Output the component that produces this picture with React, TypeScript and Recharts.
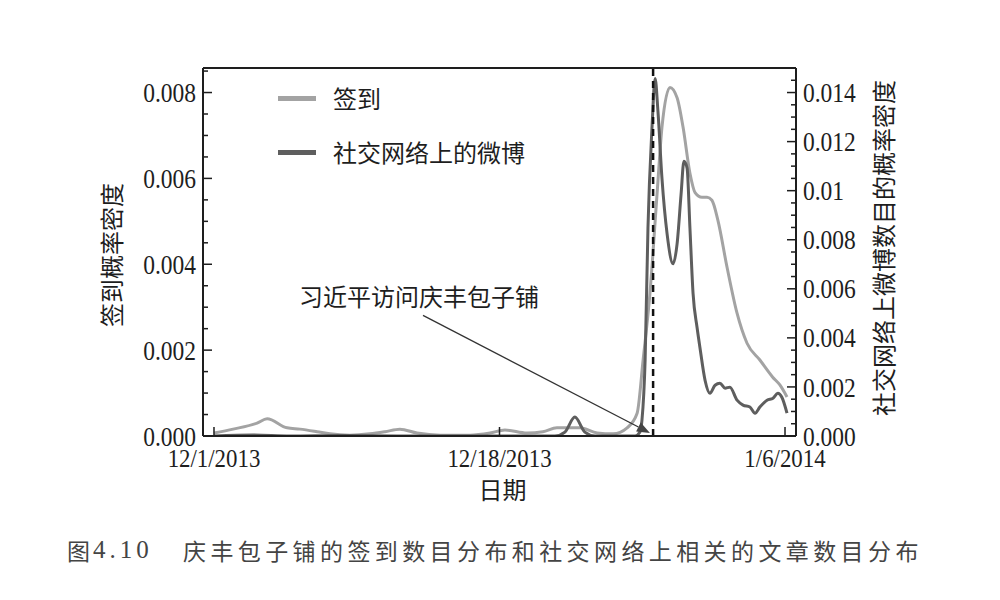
import React from 'react';
import { LineChart, Line, XAxis, YAxis, ReferenceLine, Legend } from 'recharts';

// ---- data ----
const checkinName = '签到';
const weiboName = '社交网络上的微博';
const legendOrder = [checkinName, weiboName];

const checkinX = [0, 0.067, 0.151, 0.186, 0.256, 0.301, 0.361, 0.406, 0.476, 0.546, 0.599, 0.651, 0.711, 0.792, 0.897, 0.967, 1.019, 1.096, 1.152, 1.201, 1.282, 1.342, 1.398, 1.447, 1.482, 1.503, 1.527, 1.552, 1.569, 1.597, 1.622, 1.643, 1.667, 1.685, 1.709, 1.727, 1.744, 1.765, 1.797, 1.832, 1.867, 1.912, 1.957, 1.982, 2.007];
const checkinY = [0.00007, 0.00016, 0.0003, 0.0004, 0.00019, 0.00016, 0.0001, 0.00005, 0.00002, 0.00005, 0.0001, 0.00016, 0.00007, 0.00002, 0.00002, 0.00007, 0.00014, 0.00007, 0.0001, 0.00019, 0.00019, 0.00007, 0.00005, 0.00019, 0.00053, 0.00177, 0.00333, 0.00565, 0.00719, 0.00812, 0.00788, 0.00719, 0.00612, 0.00567, 0.00556, 0.00556, 0.00549, 0.00502, 0.00393, 0.00286, 0.00216, 0.00177, 0.00137, 0.00119, 0.00091];

const weiboX = [0, 0.137, 0.266, 0.441, 0.651, 1.194, 1.229, 1.264, 1.299, 1.335, 1.475, 1.492, 1.499, 1.51, 1.52, 1.534, 1.545, 1.555, 1.569, 1.587, 1.608, 1.622, 1.636, 1.646, 1.657, 1.667, 1.678, 1.692, 1.702, 1.72, 1.737, 1.755, 1.772, 1.79, 1.807, 1.832, 1.853, 1.877, 1.895, 1.912, 1.937, 1.958, 1.975, 1.989, 2.007];
const weiboY = [0, 0.00004, 0, 0.00002, 0, 0, 0.00016, 0.00077, 0.00016, 0, 0, 0.00016, 0.00065, 0.00308, 0.00848, 0.01254, 0.01457, 0.01323, 0.01051, 0.00824, 0.00702, 0.00783, 0.00986, 0.0112, 0.01092, 0.00848, 0.0058, 0.00442, 0.00361, 0.00227, 0.00174, 0.00207, 0.00215, 0.00195, 0.00199, 0.00146, 0.00126, 0.00118, 0.00093, 0.00118, 0.00146, 0.00154, 0.00174, 0.00158, 0.00093];

const xTicks = [0, 1, 2];
const xTickLabels = ['12/1/2013', '12/18/2013', '1/6/2014'];
const xDomain = [-0.0385, 2.0385];

const leftMajor = [0, 0.002, 0.004, 0.006, 0.008];
const leftLabels = ['0.000', '0.002', '0.004', '0.006', '0.008'];
const leftMax = 0.0085714;
const rightMajor = [0, 0.002, 0.004, 0.006, 0.008, 0.01, 0.012, 0.014];
const rightLabels = ['0.000', '0.002', '0.004', '0.006', '0.008', '0.01', '0.012', '0.014'];
const rightMax = 0.015;
const minorStep = 0.0005;

const eventX = 1.538;
const annotationText = '习近平访问庆丰包子铺';
const arrowStart = { x: 0.732, y: 0.00281 };
const arrowEnd = { x: 1.527, y: 0.00007 };

const leftTitle = '签到概率密度';
const rightTitle = '社交网络上微博数目的概率密度';
const xTitle = '日期';
const captionFig = '图';
const captionNum = '4.10';
const captionText = '庆丰包子铺的签到数目分布和社交网络上相关的文章数目分布';

// ---- styles ----
const lightGray = '#a3a3a3';
const darkGray = '#5e5e5e';
const ink = '#1e1e1e';
const serif = '"Liberation Serif", "Times New Roman", serif';
const cjk = '"Noto Sans CJK SC", sans-serif';

const checkinData = checkinX.map((x, i) => ({ x, v: checkinY[i] }));
const weiboData = weiboX.map((x, i) => ({ x, v: weiboY[i] }));

const makeTicks = (max: number) => {
  const out: number[] = [];
  for (let i = 0; i * minorStep <= max + 1e-9; i++) out.push(Number((i * minorStep).toFixed(6)));
  return out;
};
const leftTicks = makeTicks(leftMax);
const rightTicks = makeTicks(rightMax);

const findIdx = (arr: number[], v: number) => arr.findIndex((m) => Math.abs(m - v) < 1e-9);

const LeftTick = (props: any) => {
  const { x, y, payload } = props;
  const idx = findIdx(leftMajor, payload.value);
  const major = idx >= 0;
  return (
    <g>
      <line x1={x} x2={x + (major ? 9 : 5)} y1={y} y2={y} stroke={ink} strokeWidth={1.5} />
      {major && (
        <text transform={`translate(${x - 7},${y}) scale(0.87,1)`} textAnchor="end" dominantBaseline="central" fontSize={27} fontFamily={serif} fill={ink}>
          {leftLabels[idx]}
        </text>
      )}
    </g>
  );
};

const RightTick = (props: any) => {
  const { x, y, payload } = props;
  const idx = findIdx(rightMajor, payload.value);
  const major = idx >= 0;
  return (
    <g>
      <line x1={x} x2={x - (major ? 9 : 5)} y1={y} y2={y} stroke={ink} strokeWidth={1.5} />
      {major && (
        <text transform={`translate(${x + 7},${y}) scale(0.87,1)`} textAnchor="start" dominantBaseline="central" fontSize={27} fontFamily={serif} fill={ink}>
          {rightLabels[idx]}
        </text>
      )}
    </g>
  );
};

const BottomTick = (props: any) => {
  const { x, y, payload } = props;
  const idx = findIdx(xTicks, payload.value);
  return (
    <g>
      <line x1={x} x2={x} y1={y} y2={y - 9} stroke={ink} strokeWidth={1.5} />
      <text transform={`translate(${x},${y + 22}) scale(0.88,1)`} textAnchor="middle" dominantBaseline="central" fontSize={26} fontFamily={serif} fill={ink}>
        {xTickLabels[idx]}
      </text>
    </g>
  );
};

const ArrowShape = (props: any) => {
  const { x1, y1, x2, y2 } = props;
  const ang = Math.atan2(y2 - y1, x2 - x1);
  const L = 13;
  const W = 5;
  const bx = x2 - L * Math.cos(ang);
  const by = y2 - L * Math.sin(ang);
  const px = -Math.sin(ang) * W;
  const py = Math.cos(ang) * W;
  return (
    <g>
      <line x1={x1} y1={y1} x2={bx} y2={by} stroke="#333" strokeWidth={1.3} />
      <polygon points={`${x2},${y2} ${bx + px},${by + py} ${bx - px},${by - py}`} fill="#444" />
      <text x={x1 - 4} y={y1 - 20} textAnchor="middle" dominantBaseline="central" fontSize={24} fontFamily={cjk} fill={ink}>
        {annotationText}
      </text>
    </g>
  );
};

const renderLegend = (props: any) => {
  const payload = [...(props.payload || [])].sort(
    (a: any, b: any) => legendOrder.indexOf(a.value) - legendOrder.indexOf(b.value)
  );
  return (
    <div>
      {payload.map((p: any, i: number) => (
        <div key={i} style={{ display: 'flex', alignItems: 'center', height: 54 }}>
          <div style={{ width: 38, height: 5, background: p.color, marginRight: 17 }} />
          <span style={{ fontFamily: cjk, fontSize: 24, color: ink, lineHeight: '24px' }}>{p.value}</span>
        </div>
      ))}
    </div>
  );
};

const LeftTitle = (props: any) => {
  const vb = props.viewBox;
  const cx = vb.x - 13;
  const cy = vb.y + vb.height / 2 + 3;
  return (
    <text x={cx} y={cy} transform={`rotate(-90 ${cx} ${cy})`} textAnchor="middle" dominantBaseline="central" fontSize={24} fontFamily={cjk} fill={ink}>
      {leftTitle}
    </text>
  );
};

const RightTitle = (props: any) => {
  const vb = props.viewBox;
  const cx = vb.x + 86;
  const cy = vb.y + vb.height / 2 - 4;
  return (
    <text x={cx} y={cy} transform={`rotate(-90 ${cx} ${cy})`} textAnchor="middle" dominantBaseline="central" fontSize={24} fontFamily={cjk} fill={ink}>
      {rightTitle}
    </text>
  );
};

const XTitle = (props: any) => {
  const vb = props.viewBox;
  return (
    <text x={vb.x + vb.width / 2 + 3} y={vb.y + 52} textAnchor="middle" dominantBaseline="central" fontSize={24} fontFamily={cjk} fill={ink}>
      {xTitle}
    </text>
  );
};

export default function App() {
  return (
    <div style={{ position: 'absolute', left: 0, top: 0, width: 1000, height: 600, background: '#fff' }}>
      <LineChart width={1000} height={600} margin={{ top: 68, right: 144, left: 123, bottom: 104 }}>
        <XAxis
          dataKey="x"
          type="number"
          domain={xDomain}
          ticks={xTicks}
          tick={<BottomTick />}
          tickSize={0}
          tickMargin={0}
          tickLine={false}
          axisLine={{ stroke: ink, strokeWidth: 2 }}
          height={60}
          allowDataOverflow
          label={<XTitle />}
        />
        <YAxis
          yAxisId="left"
          type="number"
          domain={[0, leftMax]}
          ticks={leftTicks}
          interval={0}
          tick={<LeftTick />}
          tickSize={0}
          tickMargin={0}
          tickLine={false}
          axisLine={{ stroke: ink, strokeWidth: 2 }}
          width={80}
          allowDataOverflow
          label={<LeftTitle />}
        />
        <YAxis
          yAxisId="right"
          orientation="right"
          type="number"
          domain={[0, rightMax]}
          ticks={rightTicks}
          interval={0}
          tick={<RightTick />}
          tickSize={0}
          tickMargin={0}
          tickLine={false}
          axisLine={{ stroke: ink, strokeWidth: 2 }}
          width={60}
          allowDataOverflow
          label={<RightTitle />}
        />
        <ReferenceLine yAxisId="left" y={leftMax} stroke={ink} strokeWidth={2} />
        <Line
          yAxisId="left"
          data={checkinData}
          dataKey="v"
          name={checkinName}
          type="monotone"
          stroke={lightGray}
          strokeWidth={3}
          dot={false}
          activeDot={false}
          isAnimationActive={false}
        />
        <Line
          yAxisId="right"
          data={weiboData}
          dataKey="v"
          name={weiboName}
          type="monotone"
          stroke={darkGray}
          strokeWidth={3}
          dot={false}
          activeDot={false}
          isAnimationActive={false}
        />
        <ReferenceLine yAxisId="left" x={eventX} stroke="#111" strokeWidth={2.5} strokeDasharray="7 5" />
        <ReferenceLine yAxisId="left" segment={[arrowStart, arrowEnd]} shape={<ArrowShape />} />
        <Legend
          layout="horizontal"
          align="center"
          verticalAlign="middle"
          content={renderLegend}
          wrapperStyle={{ left: 278, top: 71, width: 320, height: 110 }}
        />
      </LineChart>
      <div style={{ position: 'absolute', top: 534, left: 67, height: 32, display: 'flex', alignItems: 'center', whiteSpace: 'nowrap', color: '#444' }}>
        <span style={{ fontFamily: cjk, fontSize: 23, width: 26 }}>{captionFig}</span>
        <span style={{ fontFamily: serif, fontSize: 25, letterSpacing: 4, width: 90 }}>{captionNum}</span>
        <span style={{ fontFamily: cjk, fontSize: 23, letterSpacing: 4.4 }}>{captionText}</span>
      </div>
    </div>
  );
}
